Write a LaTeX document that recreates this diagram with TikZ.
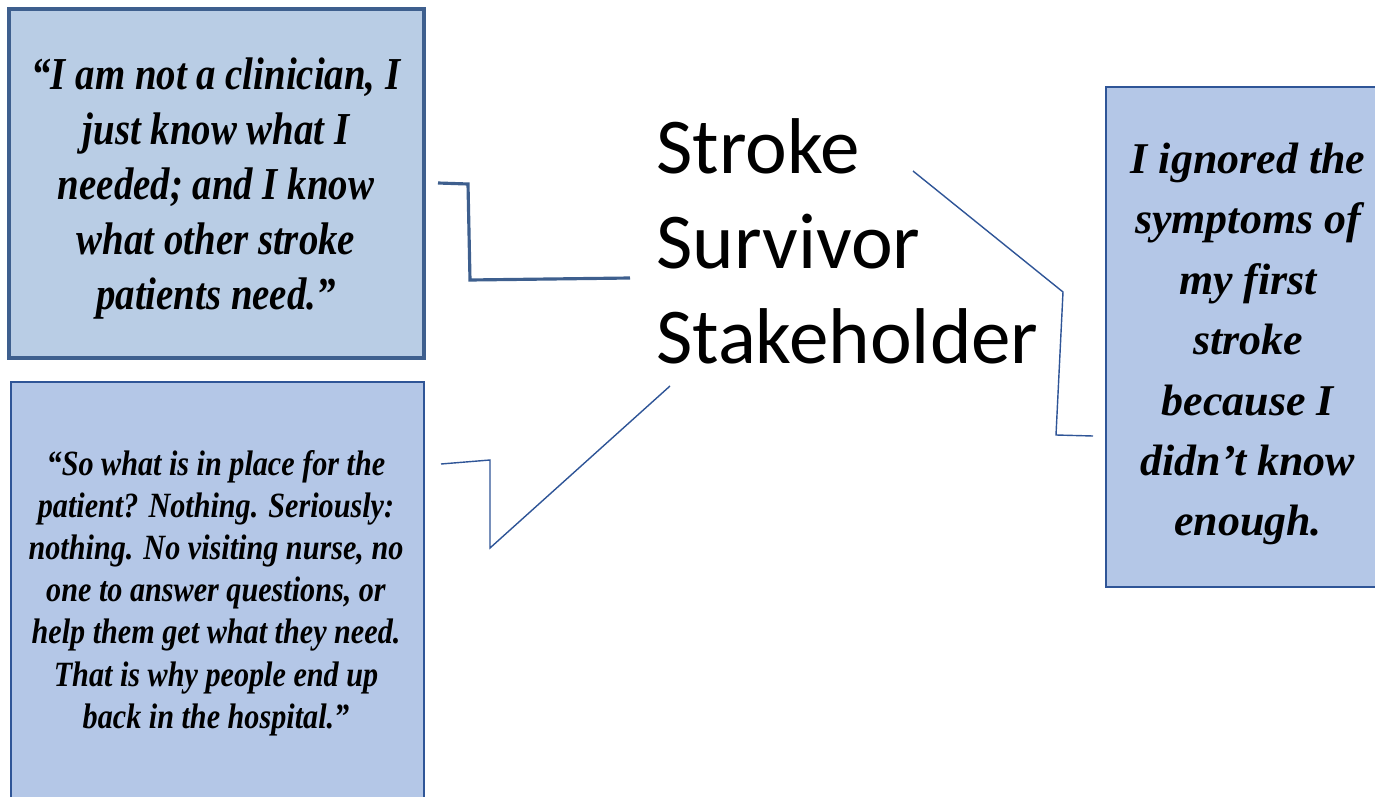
\documentclass[tikz,border=0pt]{standalone}
\usepackage{fontspec}
\setmainfont{Liberation Serif}
\newfontfamily\quotenarrow[FakeStretch=0.85]{Liberation Serif}
\newfontfamily\titlefont{Carlito}
\usepackage{tikz}
\definecolor{boxfillA}{HTML}{B9CDE5}
\definecolor{boxfillB}{HTML}{B4C7E7}
\definecolor{edgeA}{HTML}{3E5F8E}
\definecolor{edgeB}{HTML}{2F5597}
\tikzset{
	quotebox/.style={draw=edgeB, fill=boxfillB, line width=0.8pt},
	quoteboxthick/.style={draw=edgeA, fill=boxfillA, line width=1.8pt},
	quotetext/.style={align=center, font=\bfseries\itshape},
	pointer/.style={draw=edgeB, line width=0.8pt},
	pointerthick/.style={draw=edgeA, line width=1.8pt},
}

\begin{document}
\begin{tikzpicture}
		\useasboundingbox (0,0) rectangle (27.5,15.92);
		\begin{scope}
		\clip (0,0) rectangle (27.5,15.92);
		\draw[quoteboxthick] (0.18,8.76) rectangle (8.48,15.74);
		\draw[quotebox] (0.22,-0.5) rectangle (8.48,8.28);
		\draw[quotebox] (22.12,4.18) rectangle (28,14.18);
		\end{scope}
		\node[quotetext, font=\quotenarrow\bfseries\itshape\fontsize{26}{31.3}\selectfont] (clinician) at (4.32,12.14)
			{“I am not a clinician, I\\just know what I\\needed; and I know\\what other stroke\\patients need.”};
		\node[quotetext, font=\quotenarrow\bfseries\itshape\fontsize{20.2}{24}\selectfont] (nothing) at (4.32,4.06)
			{“So what is in place for the\\patient? Nothing. Seriously:\\nothing. No visiting nurse, no\\one to answer questions, or\\help them get what they need.\\That is why people end up\\back in the hospital.”};
		\node[quotetext, font=\bfseries\itshape\fontsize{25}{34.4}\selectfont] (ignored) at (24.96,9.04)
			{I ignored the\\symptoms of\\my first\\stroke\\because I\\didn’t know\\enough.};
		\node[align=left, anchor=west, font=\titlefont\fontsize{45}{54}\selectfont] (survivor) at (13.0,11.1)
			{Stroke\\Survivor\\Stakeholder};
		\coordinate (c1a) at (8.76,12.26);
		\coordinate (c1b) at (9.36,12.24);
		\coordinate (c1c) at (9.40,10.32);
		\coordinate (c1d) at (12.60,10.36);
		\draw[pointerthick] (c1a) -- (c1b) -- (c1c) -- (c1d);
		\coordinate (c2a) at (8.82,6.64);
		\coordinate (c2b) at (9.80,6.72);
		\coordinate (c2c) at (9.80,4.96);
		\coordinate (c2d) at (13.40,8.20);
		\draw[pointer] (c2a) -- (c2b) -- (c2c) -- (c2d);
		\coordinate (c3a) at (18.26,12.50);
		\coordinate (c3b) at (21.26,10.08);
		\coordinate (c3c) at (21.12,7.22);
		\coordinate (c3d) at (21.86,7.20);
		\draw[pointer] (c3a) -- (c3b) -- (c3c) -- (c3d);
	\end{tikzpicture}
\end{document}
